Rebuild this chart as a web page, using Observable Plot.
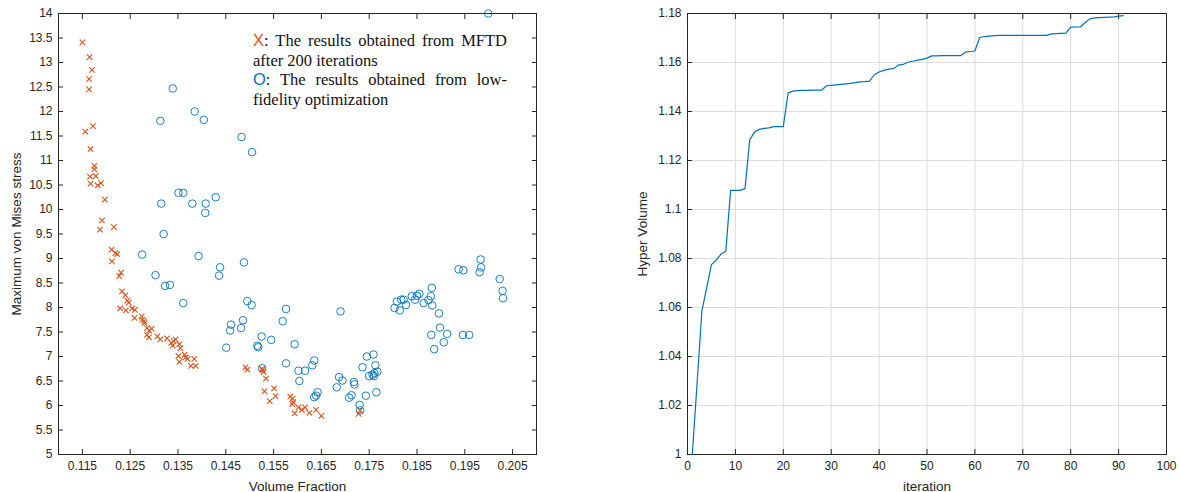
<!DOCTYPE html>
<html>
<head>
<meta charset="utf-8">
<script src="https://cdn.jsdelivr.net/npm/d3@7"></script>
<script src="https://cdn.jsdelivr.net/npm/@observablehq/plot@0.6"></script>
<style>
  body { margin: 0; background: #fff; }
  #wrap { position: relative; width: 1180px; height: 492px; display: flex; }
  #wrap svg { display: block; }
  [aria-label="x-axis label"], [aria-label="y-axis label"] { font-size: 13.5px; }
  #legend { position: absolute; left: 253px; top: 31px; width: 254px;
    font-family: "Liberation Serif", "Times New Roman", serif; font-size: 16.5px; line-height: 19.5px; color: #111; }
  #legend div { white-space: nowrap; }
  #legend .j { text-align: justify; text-align-last: justify; }
  #legend .mk { font-family: "Liberation Sans", Arial, sans-serif; }
</style>
</head>
<body>
<div id="wrap">
  <div id="left"></div>
  <div id="right"></div>
  <div id="legend">
    <div class="j"><span class="mk" style="color:#D95319">X</span>: The results obtained from MFTD</div>
    <div>after 200 iterations</div>
    <div class="j"><span class="mk" style="color:#0072BD">O</span>: The results obtained from low-</div>
    <div>fidelity optimization</div>
  </div>
</div>
<script>
// ---- Left chart data: MFTD results (X) ----
const volFracMFTD = [0.1150,0.1165,0.1170,0.1164,0.1164,0.1172,0.1156,0.1167,0.1175,0.1175,0.1166,0.1178,0.1167,0.1182,0.1189,0.1197,0.1191,0.1187,0.1216,0.1211,0.1219,0.1223,0.1212,0.1227,0.1231,0.1233,0.1240,0.1244,0.1247,0.1229,0.1241,0.1254,0.1260,0.1259,0.1274,0.1275,0.1279,0.1280,0.1285,0.1290,0.1295,0.1285,0.1289,0.1307,0.1313,0.1327,0.1336,0.1341,0.1345,0.1339,0.1353,0.1355,0.1351,0.1353,0.1364,0.1366,0.1370,0.1384,0.1377,0.1387,0.1491,0.1495,0.1526,0.1529,0.1527,0.1534,0.1531,0.1551,0.1554,0.1542,0.1585,0.1590,0.1591,0.1589,0.1594,0.1602,0.1609,0.1616,0.1625,0.1639,0.1650,0.1728,0.1731];
const stressMFTD = [13.41,13.11,12.85,12.66,12.45,11.70,11.59,11.23,10.89,10.82,10.67,10.68,10.53,10.49,10.54,10.20,9.78,9.59,9.64,9.18,9.11,9.09,8.94,8.64,8.71,8.33,8.25,8.14,8.10,7.98,7.94,7.98,7.95,7.79,7.82,7.75,7.72,7.68,7.58,7.53,7.57,7.44,7.39,7.41,7.35,7.37,7.28,7.32,7.35,7.22,7.25,7.17,7.01,6.89,7.04,6.98,6.95,6.95,6.81,6.81,6.78,6.73,6.75,6.68,6.72,6.55,6.29,6.35,6.19,6.09,6.18,6.14,6.07,6.03,5.84,5.96,5.91,5.96,5.85,5.91,5.79,5.83,5.90];

// ---- Left chart data: low-fidelity results (O) ----
const volFracLF = [0.1339,0.1313,0.1385,0.1404,0.1483,0.1505,0.1315,0.1351,0.1361,0.1380,0.1408,0.1407,0.1429,0.1320,0.1275,0.1393,0.1303,0.1323,0.1333,0.1361,0.1438,0.1436,0.1488,0.1495,0.1504,0.1461,0.1459,0.1486,0.1482,0.1451,0.1525,0.1516,0.1518,0.1545,0.1576,0.1569,0.1594,0.1576,0.1526,0.1602,0.1604,0.1616,0.1631,0.1635,0.1642,0.1639,0.1635,0.1690,0.1687,0.1694,0.1682,0.1718,0.1719,0.1713,0.1708,0.1743,0.1730,0.1731,0.1736,0.1745,0.1759,0.1763,0.1750,0.1757,0.1761,0.1767,0.1760,0.1765,0.1803,0.1814,0.1808,0.1817,0.1822,0.1827,0.1839,0.1846,0.1850,0.1855,0.1864,0.1874,0.1879,0.1881,0.1882,0.1896,0.1898,0.1880,0.1913,0.1906,0.1886,0.1937,0.1947,0.1946,0.1959,0.1983,0.1984,0.1981,0.2023,0.2029,0.2030,0.1999];
const stressLF = [12.47,11.81,12.00,11.83,11.48,11.17,10.12,10.34,10.34,10.12,10.12,9.93,10.25,9.50,9.08,9.05,8.66,8.44,8.46,8.09,8.82,8.65,8.92,8.13,8.05,7.65,7.53,7.74,7.58,7.18,7.41,7.22,7.19,7.34,7.97,7.72,7.25,6.86,6.76,6.71,6.50,6.71,6.82,6.92,6.27,6.20,6.17,7.92,6.58,6.51,6.37,6.48,6.43,6.21,6.16,6.20,6.01,5.90,6.78,7.00,7.04,6.82,6.60,6.63,6.66,6.69,6.60,6.27,7.99,7.94,8.12,8.16,8.16,8.05,8.23,8.16,8.24,8.28,8.09,8.15,8.23,8.40,8.04,7.88,7.59,7.44,7.46,7.29,7.15,8.78,8.76,7.44,7.44,8.98,8.82,8.72,8.58,8.34,8.19,14.0];

const volFracTicks = [0.115,0.125,0.135,0.145,0.155,0.165,0.175,0.185,0.195,0.205];
const stressTicks = [5,5.5,6,6.5,7,7.5,8,8.5,9,9.5,10,10.5,11,11.5,12,12.5,13,13.5,14];

// ---- Right chart data: hyper volume vs iteration ----
const iterations = d3.range(1, 92);
const hyperVolume = [1.000,1.029,1.0585,1.068,1.0775,1.0793,1.0818,1.083,1.1078,1.1078,
  1.1078,1.1085,1.1285,1.1316,1.1327,1.1331,1.1333,1.1338,1.1338,1.1338,
  1.1476,1.1483,1.1485,1.1486,1.1486,1.1487,1.1487,1.1487,1.1505,1.1507,
  1.1509,1.1511,1.1513,1.1515,1.1518,1.1521,1.1522,1.1524,1.1550,1.1561,
  1.1568,1.1573,1.1575,1.1589,1.1592,1.1601,1.1605,1.1610,1.1613,1.1618,
  1.1627,1.1627,1.1628,1.1628,1.1628,1.1628,1.1628,1.1642,1.1645,1.1647,
  1.1702,1.1706,1.1708,1.1710,1.1711,1.1711,1.1711,1.1711,1.1711,1.1711,
  1.1711,1.1711,1.1711,1.1711,1.1711,1.1717,1.1718,1.1719,1.1720,1.1744,
  1.1745,1.1745,1.1762,1.1778,1.1782,1.1783,1.1784,1.1785,1.1786,1.1789,
  1.1791];
const iterTicks = [0,10,20,30,40,50,60,70,80,90,100];
const hvTicks = [1,1.02,1.04,1.06,1.08,1.1,1.12,1.14,1.16,1.18];

const axisColor = "#262626";
const baseStyle = {fontFamily: "'Liberation Sans', Arial, sans-serif", fontSize: "12px", color: axisColor, background: "white", overflow: "visible"};

const mftd = volFracMFTD.map((x, i) => ({x, y: stressMFTD[i]}));
const lf = volFracLF.map((x, i) => ({x, y: stressLF[i]}));

const left = Plot.plot({
  width: 600, height: 492,
  marginLeft: 58, marginRight: 64, marginTop: 13, marginBottom: 38,
  style: baseStyle,
  x: {domain: [0.11, 0.21]},
  y: {domain: [5, 14]},
  marks: [
    Plot.axisX({ticks: volFracTicks, tickSize: -5, tickPadding: 12, tickFormat: d3.format(".3f"),
      label: "Volume Fraction", labelAnchor: "center", labelArrow: "none", labelOffset: 36}),
    Plot.axisX({anchor: "top", ticks: volFracTicks, tickSize: -5, tickFormat: () => "", label: null}),
    Plot.axisY({ticks: stressTicks, tickSize: -5, tickPadding: 11, tickFormat: d => String(d),
      label: "Maximum von Mises stress", labelAnchor: "center", labelArrow: "none", labelOffset: 47}),
    Plot.axisY({anchor: "right", ticks: stressTicks, tickSize: -5, tickFormat: () => "", label: null}),
    Plot.frame({stroke: axisColor}),
    Plot.dot(lf, {x: "x", y: "y", r: 3.8, stroke: "#0072BD", strokeWidth: 0.9}),
    Plot.dot(mftd, {x: "x", y: "y", symbol: "times", r: 2.6, stroke: "#D95319", strokeWidth: 1.1})
  ]
});

const hv = iterations.map((it, i) => ({it, hv: hyperVolume[i]}));
const right = Plot.plot({
  width: 580, height: 492,
  marginLeft: 87, marginRight: 14, marginTop: 13, marginBottom: 38,
  style: baseStyle,
  x: {domain: [0, 100]},
  y: {domain: [1, 1.18]},
  marks: [
    Plot.gridX(iterTicks, {stroke: "#dcdcdc", strokeOpacity: 1}),
    Plot.gridY(hvTicks, {stroke: "#dcdcdc", strokeOpacity: 1}),
    Plot.axisX({ticks: iterTicks, tickSize: -5, tickPadding: 12, tickFormat: d => String(d),
      label: "iteration", labelAnchor: "center", labelArrow: "none", labelOffset: 36}),
    Plot.axisX({anchor: "top", ticks: iterTicks, tickSize: -5, tickFormat: () => "", label: null}),
    Plot.axisY({ticks: hvTicks, tickSize: -5, tickPadding: 11, tickFormat: d => String(+d.toFixed(2)),
      label: "Hyper Volume", labelAnchor: "center", labelArrow: "none", labelOffset: 50}),
    Plot.axisY({anchor: "right", ticks: hvTicks, tickSize: -5, tickFormat: () => "", label: null}),
    Plot.frame({stroke: axisColor}),
    Plot.lineY(hv, {x: "it", y: "hv", stroke: "#0072BD", strokeWidth: 1.2})
  ]
});

document.getElementById("left").appendChild(left);
document.getElementById("right").appendChild(right);
</script>
</body>
</html>
